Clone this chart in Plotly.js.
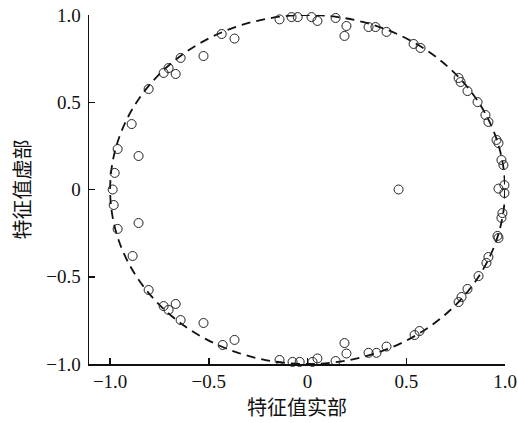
<!DOCTYPE html>
<html>
<head>
<meta charset="utf-8">
<script src="https://cdn.plot.ly/plotly-3.0.1.min.js"></script>
<style>html,body{margin:0;padding:0;background:#fff;}</style>
</head>
<body>
<div id="chart" style="width:518px;height:423px;"></div>
<script>
const realPart = [
  -0.987, -0.977, -0.962, -0.856, -0.891, -0.805, -0.729, -0.704, -0.668, -0.643,
  -0.527, -0.435, -0.370, -0.142, -0.081, -0.050, 0.020, 0.050, 0.142, 0.197,
  0.187, 0.309, 0.344, 0.400, 0.537, 0.572, 0.765, 0.775, 0.810, 0.861,
  0.901, 0.916, 0.957, 0.967, 0.982, 0.992, 0.997, 0.967, 0.461,
  -0.982, -0.962, -0.856, -0.886, -0.805, -0.729, -0.704, -0.668, -0.643,
  -0.527, -0.430, -0.370, -0.142, -0.076, -0.040, 0.025, 0.050, 0.142, 0.187,
  0.197, 0.309, 0.349, 0.400, 0.542, 0.567, 0.765, 0.780, 0.810, 0.866,
  0.906, 0.916, 0.962, 0.967, 0.982, 0.987, 0.997
];
const imagPart = [
  0.000, 0.095, 0.232, 0.192, 0.375, 0.576, 0.668, 0.696, 0.662, 0.754,
  0.765, 0.891, 0.865, 0.975, 0.988, 0.988, 0.988, 0.966, 0.983, 0.937,
  0.880, 0.931, 0.931, 0.903, 0.834, 0.811, 0.639, 0.616, 0.564, 0.501,
  0.427, 0.387, 0.284, 0.266, 0.169, 0.140, 0.025, 0.005, 0.000,
  -0.089, -0.226, -0.192, -0.381, -0.576, -0.668, -0.690, -0.656, -0.748,
  -0.765, -0.891, -0.862, -0.977, -0.988, -0.988, -0.988, -0.968, -0.983, -0.880,
  -0.940, -0.936, -0.936, -0.900, -0.834, -0.811, -0.645, -0.616, -0.570, -0.496,
  -0.421, -0.387, -0.266, -0.278, -0.163, -0.135, -0.020
];

const xTickVals = [-1.0, -0.5, 0, 0.5, 1.0];
const xTickText = ['\u22121.0', '\u22120.5', '0', '0.5', '1.0'];
const yTickVals = [-1.0, -0.5, 0, 0.5, 1.0];
const yTickText = ['\u22121.0', '\u22120.5', '0', '0.5', '1.0'];

const trace = {
  x: realPart,
  y: imagPart,
  type: 'scatter',
  mode: 'markers',
  cliponaxis: false,
  marker: {
    symbol: 'circle-open',
    size: 9,
    color: '#222',
    line: {width: 1, color: '#222'}
  },
  hoverinfo: 'x+y'
};

const tickFont = {family: '"Liberation Serif", "DejaVu Serif", serif', size: 19, color: '#111'};
const titleFont = {family: '"Noto Sans CJK SC", sans-serif', size: 20, color: '#111'};

const layout = {
  width: 518,
  height: 423,
  margin: {l: 89, r: 13, t: 15, b: 59},
  paper_bgcolor: '#fff',
  plot_bgcolor: '#fff',
  showlegend: false,
  xaxis: {
    range: [-1.107, 1.0],
    tickvals: xTickVals,
    ticktext: xTickText,
    ticks: 'inside',
    ticklen: 6,
    tickwidth: 1.5,
    tickcolor: '#111',
    showline: true,
    linecolor: '#111',
    linewidth: 1.5,
    showgrid: false,
    zeroline: false,
    tickfont: tickFont,
    title: {text: '特征值实部', font: titleFont, standoff: 4}
  },
  yaxis: {
    range: [-1.0, 1.0],
    tickvals: yTickVals,
    ticktext: yTickText,
    ticks: 'inside',
    ticklen: 6,
    tickwidth: 1.5,
    tickcolor: '#111',
    showline: true,
    linecolor: '#111',
    linewidth: 1.5,
    showgrid: false,
    zeroline: false,
    ticklabelstandoff: 3,
    tickfont: tickFont,
    title: {text: '特征值虚部', font: titleFont, standoff: 10}
  },
  shapes: [{
    type: 'circle',
    xref: 'x', yref: 'y',
    x0: -1, y0: -1, x1: 1, y1: 1,
    line: {color: '#111', width: 1.8, dash: '9px,6px'},
    layer: 'below'
  }]
};

Plotly.newPlot('chart', [trace], layout, {displayModeBar: false, staticPlot: true});
</script>
</body>
</html>
